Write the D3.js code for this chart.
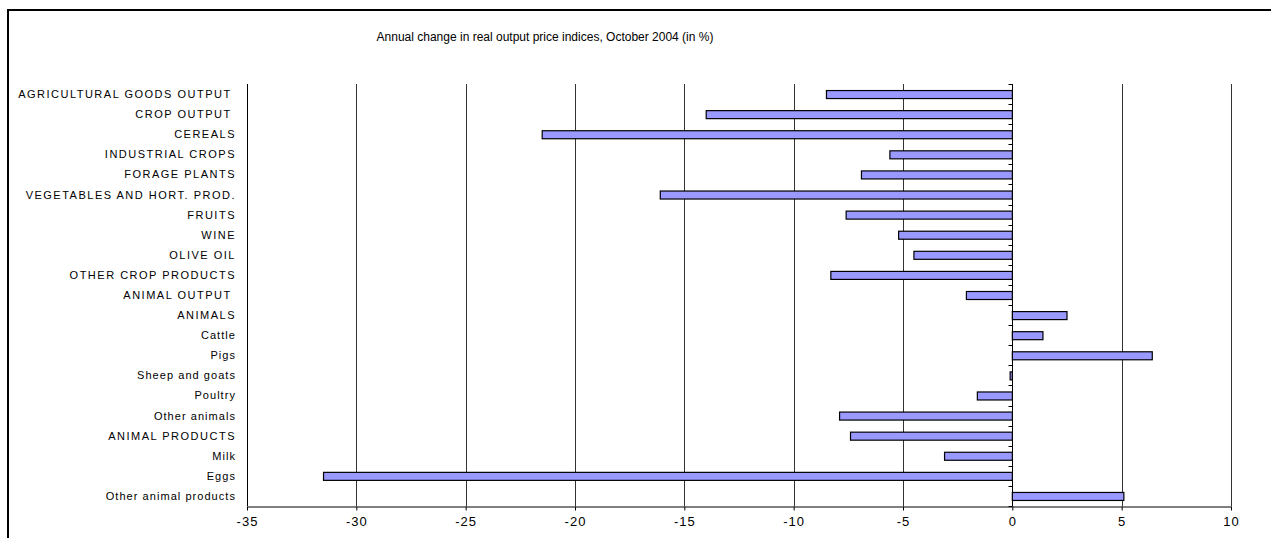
<!DOCTYPE html>
<html>
<head>
<meta charset="utf-8">
<script src="https://cdn.jsdelivr.net/npm/d3@7"></script>
<style>
  html, body { margin: 0; padding: 0; background: #fff; }
  svg { display: block; font-family: "Liberation Sans", Arial, sans-serif; }
</style>
</head>
<body>
<svg id="chart" width="1271" height="538"></svg>
<script>
const title = "Annual change in real output price indices, October 2004 (in %)";
const categories = [
  "AGRICULTURAL GOODS OUTPUT ", "CROP OUTPUT ", "CEREALS", "INDUSTRIAL CROPS",
  "FORAGE PLANTS", "VEGETABLES AND HORT. PROD.", "FRUITS", "WINE", "OLIVE OIL",
  "OTHER CROP PRODUCTS", "ANIMAL OUTPUT ", "ANIMALS", "Cattle", "Pigs",
  "Sheep and goats", "Poultry", "Other animals", "ANIMAL PRODUCTS", "Milk",
  "Eggs", "Other animal products"
];
const values = [
  -8.5, -14.0, -21.5, -5.6, -6.9, -16.1, -7.6, -5.2, -4.5, -8.3, -2.1,
  2.5, 1.4, 6.4, -0.1, -1.6, -7.9, -7.4, -3.1, -31.5, 5.1
];
const xTicks = [-35, -30, -25, -20, -15, -10, -5, 0, 5, 10];

const data = categories.map((c, i) => ({ cat: c, value: values[i] }));
const svg = d3.select("#chart");

// outer frame (extends beyond right/bottom edges)
svg.append("rect")
  .attr("x", 8).attr("y", 10).attr("width", 1300).attr("height", 600)
  .attr("fill", "none").attr("stroke", "#000").attr("stroke-width", 2);

const x = d3.scaleLinear().domain([-35, 10]).range([247, 1231]);
const y = d3.scaleBand().domain(categories).range([84, 506]);

// title
svg.append("text")
  .attr("x", 545).attr("y", 41)
  .attr("text-anchor", "middle")
  .attr("font-size", 12)
  .attr("fill", "#000")
  .text(title);

// vertical gridlines
svg.append("g").selectAll("line")
  .data(xTicks.filter(t => t !== -35 && t !== 0))
  .join("line")
  .attr("x1", d => Math.round(x(d)) + 0.5).attr("x2", d => Math.round(x(d)) + 0.5)
  .attr("y1", 84).attr("y2", 506)
  .attr("stroke", "#333").attr("stroke-width", 1);

// left plot edge line
svg.append("line")
  .attr("x1", Math.round(x(-35)) + 0.5).attr("x2", Math.round(x(-35)) + 0.5)
  .attr("y1", 84).attr("y2", 506)
  .attr("stroke", "#000").attr("stroke-width", 1);

// bars
const bh = 8;
svg.append("g").selectAll("rect")
  .data(data)
  .join("rect")
  .attr("x", d => x(Math.min(0, d.value)))
  .attr("y", d => y(d.cat) + y.bandwidth() / 2 - bh / 2 + 0.5)
  .attr("width", d => Math.max(1, Math.abs(x(d.value) - x(0))))
  .attr("height", bh)
  .attr("fill", "#9999FF")
  .attr("stroke", "#000")
  .attr("stroke-width", 1.2);

// zero axis with category boundary ticks
const zx = Math.round(x(0)) + 0.5;
const zg = svg.append("g");
zg.append("line")
  .attr("x1", zx).attr("x2", zx).attr("y1", 84).attr("y2", 506)
  .attr("stroke", "#000").attr("stroke-width", 1);
const bounds = categories.map(c => y(c)).concat([y.range()[1]]);
zg.selectAll("line.tk")
  .data(bounds)
  .join("line").attr("class", "tk")
  .attr("x1", zx - 4).attr("x2", zx)
  .attr("y1", d => Math.round(d) + 0.5).attr("y2", d => Math.round(d) + 0.5)
  .attr("stroke", "#000").attr("stroke-width", 1);

// category labels
svg.append("g").selectAll("text")
  .data(categories)
  .join("text")
  .attr("x", 236)
  .attr("y", d => y(d) + y.bandwidth() / 2 + 4)
  .attr("text-anchor", "end")
  .attr("font-size", 11)
  .attr("letter-spacing", d => d === d.toUpperCase() ? "1.5px" : "1.05px")
  .attr("xml:space", "preserve")
  .style("white-space", "pre")
  .attr("fill", "#000")
  .text(d => d);

// bottom axis
const xAxis = d3.axisBottom(x).tickValues(xTicks).tickSize(4).tickSizeOuter(0).tickPadding(6)
  .tickFormat(d => String(d));
const ax = svg.append("g").attr("transform", "translate(0,506.5)").call(xAxis);
ax.select(".domain").attr("stroke", "#000");
ax.selectAll(".tick line").attr("stroke", "#000");
ax.selectAll(".tick text")
  .attr("font-family", "Liberation Sans, Arial, sans-serif")
  .attr("font-size", 13)
  .attr("letter-spacing", "1px")
  .attr("fill", "#000");
</script>
</body>
</html>
